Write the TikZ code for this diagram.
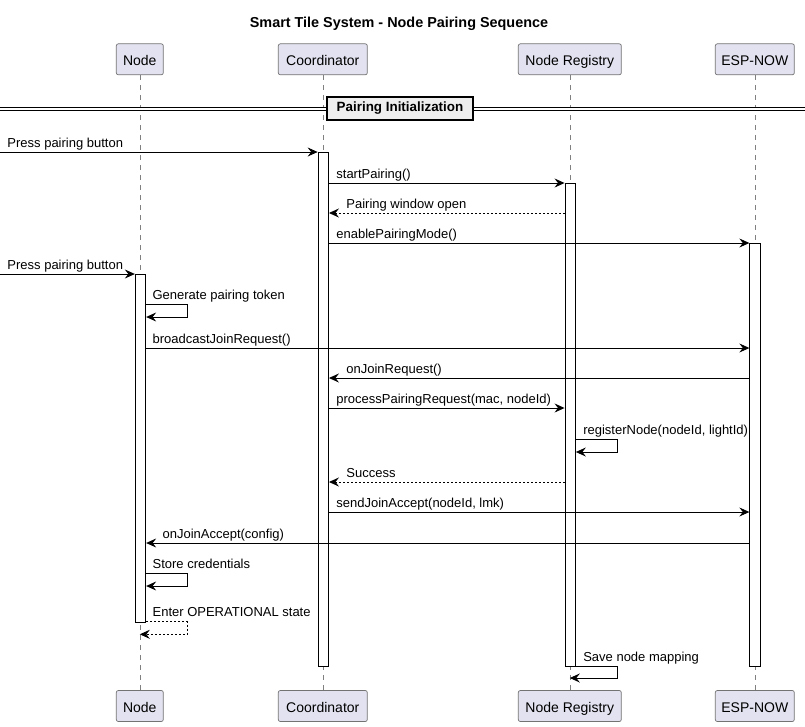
\documentclass[tikz,border=0pt]{standalone}
\usepackage{fontspec}
\setmainfont{Liberation Sans}
\usetikzlibrary{arrows.meta}

\definecolor{boxfill}{HTML}{E2E2F0}
\definecolor{sepfill}{HTML}{EEEEEE}

\begin{document}
\begin{tikzpicture}[x=1pt, y=-1pt,
	participant/.style={draw=black!55, line width=0.7pt, fill=boxfill, rounded corners=2pt, minimum height=31pt, inner sep=0pt, text height=13pt, text depth=0pt, font=\fontsize{14}{16}\selectfont},
	lifeline/.style={draw=black!50, line width=0.6pt, dash pattern=on 5pt off 5pt},
	actbar/.style={draw, fill=white, line width=0.8pt, minimum width=10.5pt, inner sep=0pt},
	msg/.style={-{Stealth[length=10pt, width=9pt, inset=3.5pt]}, line width=0.9pt},
	ret/.style={msg, dash pattern=on 2pt off 2pt},
	lbl/.style={font=\fontsize{13}{15}\selectfont, anchor=base west, inner sep=0pt}]
	\useasboundingbox (0,0) rectangle (805,726);

	% title
	\node[font=\bfseries\fontsize{14.4}{16}\selectfont] (title) at (399,24) {Smart Tile System - Node Pairing Sequence};

	% participants
	\node[participant, minimum width=47pt] (Nt) at (139.8,59.3) {Node};
	\node[participant, minimum width=89pt] (Ct) at (322.8,59.3) {Coordinator};
	\node[participant, minimum width=103pt] (Rt) at (569.8,59.3) {Node Registry};
	\node[participant, minimum width=79pt] (Et) at (754.8,59.3) {ESP-NOW};
	\node[participant, minimum width=47pt] (Nb) at (139.8,706) {Node};
	\node[participant, minimum width=89pt] (Cb) at (322.8,706) {Coordinator};
	\node[participant, minimum width=103pt] (Rb) at (569.8,706) {Node Registry};
	\node[participant, minimum width=79pt] (Eb) at (754.8,706) {ESP-NOW};

	% lifelines
	\draw[lifeline] (Nt) -- (Nb);
	\draw[lifeline] (Ct) -- (Cb);
	\draw[lifeline] (Rt) -- (Rb);
	\draw[lifeline] (Et) -- (Eb);

	% separator
	\coordinate (sepL) at (0,108.8);
	\coordinate (sepR) at (805,108.8);
	\draw[double, double distance=1.8pt, line width=1pt] (sepL) -- (sepR);
	\node[draw, line width=1.6pt, fill=sepfill, minimum width=146pt, minimum height=23pt, inner sep=0pt, font=\bfseries\fontsize{13.4}{15}\selectfont] (sep) at (400,108.5) {Pairing Initialization};

	% activations
	\node[actbar, minimum height=348pt] (Nbar) at (140.5,448) {};
	\node[actbar, minimum height=514pt] (Cbar) at (323.3,409) {};
	\node[actbar, minimum height=483pt] (Rbar) at (570.2,424.5) {};
	\node[actbar, minimum height=423pt] (Ebar) at (755,454.5) {};

	% message levels
	\coordinate (y1) at (0,152);
	\coordinate (y2) at (0,183);
	\coordinate (y3) at (0,213);
	\coordinate (y4) at (0,243);
	\coordinate (y5) at (0,274);
	\coordinate (y6) at (0,304);
	\coordinate (y7) at (0,348);
	\coordinate (y8) at (0,378);
	\coordinate (y9) at (0,408);
	\coordinate (y10) at (0,439);
	\coordinate (y11) at (0,482);
	\coordinate (y12) at (0,512);
	\coordinate (y13) at (0,543);
	\coordinate (y14) at (0,573);
	\coordinate (y15) at (0,621.5);
	\coordinate (y15e) at (0,634.3);
	\coordinate (y16) at (0,666.5);
	\coordinate (y16e) at (0,678);

	% messages
	\draw[msg] (y1) node[lbl, xshift=7pt, yshift=5pt] {Press pairing button} -- (Cbar.west |- y1);
	\draw[msg] (Cbar.east |- y2) node[lbl, xshift=7pt, yshift=5pt] {startPairing()} -- (Rbar.west |- y2);
	\draw[ret] (Rbar.west |- y3) -- (Cbar.east |- y3) node[lbl, xshift=17pt, yshift=5pt] {Pairing window open};
	\draw[msg] (Cbar.east |- y4) node[lbl, xshift=7pt, yshift=5pt] {enablePairingMode()} -- (Ebar.west |- y4);
	\draw[msg] (y5) node[lbl, xshift=7pt, yshift=5pt] {Press pairing button} -- (Nbar.west |- y5);
	\draw[msg] (Nbar.east |- y6) node[lbl, xshift=6pt, yshift=5pt] {Generate pairing token} -- ++(41,0) -- ++(0,13) -- ++(-41,0);
	\draw[msg] (Nbar.east |- y7) node[lbl, xshift=6pt, yshift=5pt] {broadcastJoinRequest()} -- (Ebar.west |- y7);
	\draw[msg] (Ebar.west |- y8) -- (Cbar.east |- y8) node[lbl, xshift=17pt, yshift=5pt] {onJoinRequest()};
	\draw[msg] (Cbar.east |- y9) node[lbl, xshift=7pt, yshift=5pt] {processPairingRequest(mac, nodeId)} -- (Rbar.west |- y9);
	\draw[msg] (Rbar.east |- y10) node[lbl, xshift=7pt, yshift=5pt] {registerNode(nodeId, lightId)} -- ++(42,0) -- ++(0,13) -- ++(-42,0);
	\draw[ret] (Rbar.west |- y11) -- (Cbar.east |- y11) node[lbl, xshift=17pt, yshift=5pt] {Success};
	\draw[msg] (Cbar.east |- y12) node[lbl, xshift=7pt, yshift=5pt] {sendJoinAccept(nodeId, lmk)} -- (Ebar.west |- y12);
	\draw[msg] (Ebar.west |- y13) -- (Nbar.east |- y13) node[lbl, xshift=16pt, yshift=5pt] {onJoinAccept(config)};
	\draw[msg] (Nbar.east |- y14) node[lbl, xshift=6pt, yshift=5pt] {Store credentials} -- ++(41,0) -- ++(0,13) -- ++(-41,0);
	\draw[ret] (Nbar.east |- y15) node[lbl, xshift=6pt, yshift=5pt] {Enter OPERATIONAL state} -- ++(41,0) |- (Nb.north |- y15e);
	\draw[msg] (Rbar.east |- y16) node[lbl, xshift=7pt, yshift=5pt] {Save node mapping} -- ++(42,0) |- (Rb.north |- y16e);
\end{tikzpicture}
\end{document}
